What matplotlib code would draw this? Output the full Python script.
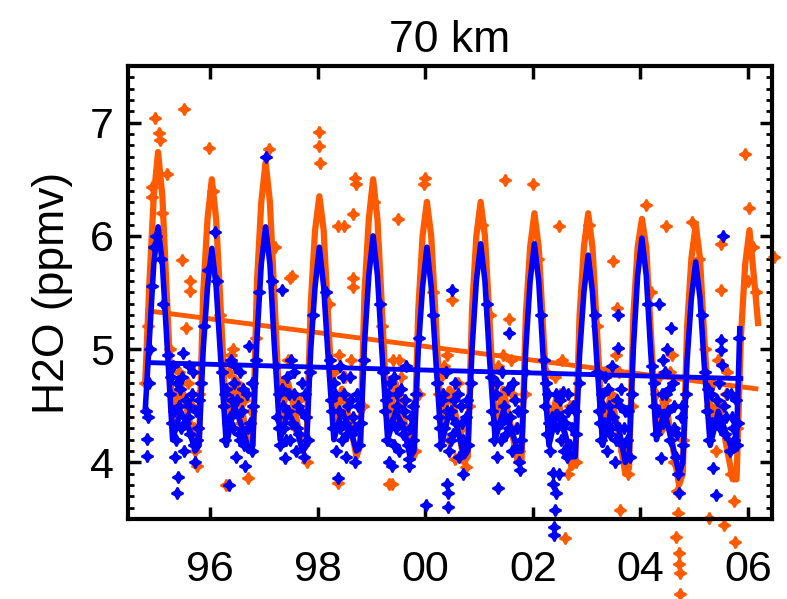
import matplotlib
matplotlib.use("Agg")
import matplotlib.pyplot as plt
from matplotlib.ticker import MultipleLocator, FixedLocator

plt.rcParams['font.family'] = ['Liberation Sans', 'DejaVu Sans']

ORANGE = '#FF5A00'
BLUE = '#0000FF'

# x tick positions / labels
year_ticks = [1996, 1998, 2000, 2002, 2004, 2006]
year_labels = ['96', '98', '00', '02', '04', '06']

# seasonal fit: offsets from Jan 1 and values read for each cycle
cycle_offsets = [-0.21, -0.13, -0.05, 0.03, 0.11, 0.19, 0.30, 0.45, 0.60, 0.72]

blue_years = [1995, 1996, 1997, 1998, 1999, 2000, 2001, 2002, 2003, 2004, 2005]
blue_cycles = [
    [4.45, 5.10, 5.75, 6.08, 5.75, 5.10, 4.20, 4.45, 4.30, 4.10],
    [4.15, 5.00, 5.55, 5.89, 5.55, 4.95, 4.15, 4.50, 4.30, 4.10],
    [4.15, 5.10, 5.75, 6.08, 5.75, 5.05, 4.20, 4.45, 4.30, 4.10],
    [4.15, 5.00, 5.55, 5.90, 5.55, 4.95, 4.20, 4.45, 4.30, 4.10],
    [4.15, 5.05, 5.65, 6.00, 5.65, 5.00, 4.20, 4.45, 4.30, 4.05],
    [4.10, 5.00, 5.55, 5.90, 5.55, 4.95, 4.15, 4.45, 4.30, 4.05],
    [4.10, 5.00, 5.60, 5.93, 5.60, 4.95, 4.20, 4.45, 4.30, 4.10],
    [4.10, 5.00, 5.60, 5.93, 5.60, 4.95, 4.15, 4.45, 4.25, 4.05],
    [4.05, 4.95, 5.50, 5.83, 5.50, 4.90, 4.15, 4.45, 4.30, 4.00],
    [4.05, 5.00, 5.65, 5.98, 5.65, 5.00, 4.20, 4.45, 4.15, 3.90],
    [4.00, 4.90, 5.45, 5.77, 5.45, 4.85, 4.15, 4.45, 4.25, 4.10],
]
blue_tail = [(2005.79, 4.20), (2005.85, 5.18)]

orange_years = [1995, 1996, 1997, 1998, 1999, 2000, 2001, 2002, 2003, 2004, 2005, 2006]
orange_cycles = [
    [4.70, 5.60, 6.35, 6.74, 6.35, 5.50, 4.35, 4.70, 4.40, 4.15],
    [4.15, 5.50, 6.15, 6.50, 6.15, 5.40, 4.35, 4.75, 4.45, 4.10],
    [4.15, 5.60, 6.30, 6.65, 6.30, 5.50, 4.35, 4.70, 4.40, 4.10],
    [4.15, 5.40, 6.05, 6.35, 6.05, 5.30, 4.30, 4.65, 4.35, 4.05],
    [4.15, 5.50, 6.15, 6.50, 6.15, 5.40, 4.30, 4.70, 4.40, 4.05],
    [4.05, 5.35, 6.00, 6.30, 6.00, 5.30, 4.30, 4.65, 4.35, 4.00],
    [4.05, 5.35, 6.00, 6.30, 6.00, 5.30, 4.30, 4.65, 4.30, 4.00],
    [4.00, 5.30, 5.90, 6.20, 5.90, 5.20, 4.25, 4.60, 4.25, 3.95],
    [4.00, 5.30, 5.90, 6.20, 5.90, 5.20, 4.25, 4.60, 4.25, 3.90],
    [3.95, 5.30, 5.90, 6.15, 5.90, 5.20, 4.25, 4.60, 4.15, 3.80],
    [3.90, 5.20, 5.80, 6.10, 5.80, 5.10, 4.25, 4.55, 4.15, 3.85],
    [3.85, 5.10, 5.75, 6.05, 5.65, 5.23],
]

# linear trends (start, end)
blue_trend_t = [1994.92, 2005.87]
blue_trend_v = [4.88, 4.74]
orange_trend_t = [1994.97, 2006.15]
orange_trend_v = [5.33, 4.65]

# individual measurements
blue_points = [
    (1994.80, 4.45), (1994.83, 4.06), (1994.83, 4.21), (1994.84, 4.40), (1994.86, 4.70),
    (1994.88, 5.00), (1994.92, 5.56), (1994.95, 5.90), (1995.00, 6.00), (1995.08, 5.80),
    (1995.12, 5.40), (1995.22, 4.95), (1995.25, 4.60), (1995.28, 4.35), (1995.30, 4.85),
    (1995.33, 4.45), (1995.36, 4.20), (1995.38, 4.70), (1995.39, 3.73), (1995.40, 3.87),
    (1995.42, 4.50), (1995.45, 4.30), (1995.48, 4.75), (1995.50, 4.97), (1995.52, 4.10),
    (1995.55, 4.55), (1995.58, 4.40), (1995.60, 4.85), (1995.63, 4.25), (1995.66, 4.60),
    (1995.70, 4.15), (1995.72, 4.00), (1995.74, 4.45), (1995.78, 4.30), (1995.82, 4.70),
    (1995.88, 5.20), (1995.95, 5.70), (1996.09, 6.03), (1996.12, 5.60),
    (1995.27, 4.75), (1995.34, 4.05), (1995.44, 4.65), (1995.53, 4.35), (1995.61, 4.50),
    (1995.68, 4.80), (1995.76, 4.20), (1995.80, 4.55),
    (1996.22, 4.80), (1996.25, 4.50), (1996.28, 4.20), (1996.30, 4.65), (1996.34, 3.80),
    (1996.36, 4.40), (1996.39, 4.90), (1996.42, 4.30), (1996.45, 4.70), (1996.48, 4.05),
    (1996.50, 4.55), (1996.53, 4.25), (1996.56, 4.80), (1996.59, 4.45), (1996.62, 4.15),
    (1996.65, 3.97), (1996.68, 4.60), (1996.72, 5.03), (1996.74, 4.35), (1996.78, 4.10),
    (1996.80, 4.50), (1996.85, 4.90), (1996.90, 5.50), (1997.04, 6.70), (1997.15, 5.60),
    (1996.27, 4.60), (1996.33, 4.35), (1996.41, 4.55), (1996.47, 4.85), (1996.55, 4.20),
    (1996.61, 4.65), (1996.70, 4.30), (1996.77, 4.70),
    (1997.22, 4.85), (1997.25, 4.40), (1997.28, 4.60), (1997.30, 4.15), (1997.34, 5.52),
    (1997.36, 4.50), (1997.38, 4.30), (1997.40, 4.04), (1997.42, 4.75), (1997.45, 4.45),
    (1997.48, 4.20), (1997.50, 4.90), (1997.53, 4.35), (1997.56, 4.60), (1997.60, 4.10),
    (1997.63, 4.50), (1997.66, 4.25), (1997.70, 4.70), (1997.74, 4.05), (1997.78, 4.40),
    (1997.82, 4.20), (1997.86, 4.80), (1997.92, 5.30),
    (1997.27, 4.30), (1997.33, 4.65), (1997.41, 4.20), (1997.47, 4.60), (1997.55, 4.80),
    (1997.62, 4.30), (1997.69, 4.45), (1997.76, 4.60),
    (1998.15, 5.50), (1998.22, 4.90), (1998.25, 4.55), (1998.28, 4.30), (1998.31, 4.70),
    (1998.34, 4.10), (1998.37, 3.86), (1998.39, 4.45), (1998.42, 4.85), (1998.45, 4.20),
    (1998.48, 4.60), (1998.50, 4.35), (1998.53, 4.05), (1998.56, 4.50), (1998.60, 4.75),
    (1998.63, 4.25), (1998.66, 4.40), (1998.70, 4.00), (1998.73, 4.60), (1998.77, 4.15),
    (1998.80, 4.35), (1998.86, 4.90),
    (1998.27, 4.45), (1998.33, 4.60), (1998.41, 4.30), (1998.47, 4.75), (1998.55, 4.25),
    (1998.62, 4.55), (1998.69, 4.30), (1998.75, 4.50),
    (1999.15, 5.40), (1999.22, 4.80), (1999.25, 4.45), (1999.28, 4.20), (1999.31, 4.60),
    (1999.33, 4.00), (1999.36, 4.35), (1999.39, 3.97), (1999.42, 4.75), (1999.45, 4.30),
    (1999.48, 4.50), (1999.51, 4.10), (1999.55, 4.65), (1999.58, 4.25), (1999.60, 4.45),
    (1999.64, 4.85), (1999.67, 4.15), (1999.69, 4.03), (1999.70, 3.97), (1999.74, 4.40),
    (1999.78, 4.20), (1999.82, 4.60), (1999.88, 5.10),
    (1999.27, 4.55), (1999.34, 4.70), (1999.41, 4.15), (1999.47, 4.60), (1999.53, 4.35),
    (1999.62, 4.55), (1999.72, 4.30), (1999.77, 4.50),
    (2000.02, 3.62), (2000.15, 5.30), (2000.22, 4.70), (2000.25, 4.40), (2000.28, 4.15),
    (2000.31, 4.55), (2000.34, 4.30), (2000.38, 4.80), (2000.41, 3.81), (2000.42, 3.73),
    (2000.43, 3.61), (2000.45, 4.10), (2000.48, 4.45), (2000.50, 5.52), (2000.52, 4.25),
    (2000.55, 4.70), (2000.58, 4.35), (2000.62, 4.05), (2000.66, 4.50), (2000.70, 4.20),
    (2000.71, 3.90), (2000.75, 4.40), (2000.80, 4.15), (2000.85, 4.70),
    (2000.27, 4.30), (2000.33, 4.60), (2000.40, 4.45), (2000.47, 4.20), (2000.54, 4.55),
    (2000.60, 4.60), (2000.68, 4.35), (2000.77, 4.55),
    (2001.15, 5.40), (2001.22, 4.75), (2001.25, 4.45), (2001.28, 4.20), (2001.31, 4.60),
    (2001.34, 4.05), (2001.36, 3.77), (2001.40, 4.35), (2001.43, 4.80), (2001.46, 4.50),
    (2001.50, 4.25), (2001.53, 4.65), (2001.55, 5.14), (2001.58, 4.40), (2001.62, 4.10),
    (2001.66, 4.55), (2001.70, 4.30), (2001.74, 4.00), (2001.77, 3.93), (2001.80, 4.45),
    (2001.85, 4.80),
    (2001.27, 4.35), (2001.33, 4.70), (2001.41, 4.20), (2001.48, 4.40), (2001.56, 4.30),
    (2001.64, 4.70), (2001.72, 4.45), (2001.78, 4.20),
    (2002.15, 5.30), (2002.20, 4.90), (2002.23, 4.50), (2002.26, 4.25), (2002.29, 4.60),
    (2002.32, 4.10), (2002.35, 4.40), (2002.37, 3.81), (2002.37, 3.91), (2002.39, 3.43),
    (2002.39, 3.36), (2002.41, 3.58), (2002.43, 3.73), (2002.45, 4.30), (2002.48, 3.90),
    (2002.50, 4.55), (2002.53, 4.20), (2002.56, 4.62), (2002.60, 4.35), (2002.63, 4.05),
    (2002.66, 4.45), (2002.70, 4.15), (2002.74, 4.50), (2002.80, 4.25), (2002.85, 4.70),
    (2002.25, 4.70), (2002.31, 4.35), (2002.44, 4.60), (2002.52, 4.40), (2002.58, 4.10),
    (2002.65, 4.60), (2002.72, 4.30), (2002.78, 4.45),
    (2003.15, 5.30), (2003.20, 4.80), (2003.23, 4.45), (2003.26, 4.20), (2003.29, 4.60),
    (2003.32, 4.35), (2003.35, 4.75), (2003.38, 4.10), (2003.41, 4.50), (2003.44, 4.25),
    (2003.47, 4.85), (2003.50, 4.40), (2003.53, 4.00), (2003.56, 4.55), (2003.58, 5.30),
    (2003.58, 5.01), (2003.60, 4.30), (2003.64, 4.65), (2003.68, 4.15), (2003.72, 4.45),
    (2003.76, 4.20), (2003.80, 4.05), (2003.85, 4.60),
    (2003.25, 4.35), (2003.31, 4.50), (2003.40, 4.65), (2003.46, 4.30), (2003.55, 4.20),
    (2003.62, 4.50), (2003.70, 4.30), (2003.78, 4.45),
    (2004.15, 5.40), (2004.22, 4.85), (2004.26, 4.50), (2004.30, 4.25), (2004.35, 5.40),
    (2004.38, 4.04), (2004.40, 4.60), (2004.43, 4.35), (2004.46, 4.80), (2004.50, 5.00),
    (2004.52, 4.45), (2004.55, 4.20), (2004.57, 5.19), (2004.60, 4.70), (2004.63, 4.30),
    (2004.66, 4.05), (2004.70, 3.90), (2004.72, 3.73), (2004.75, 4.40), (2004.80, 4.15),
    (2004.85, 4.60),
    (2004.25, 4.70), (2004.32, 4.45), (2004.42, 4.90), (2004.48, 4.60), (2004.54, 4.65),
    (2004.62, 4.50), (2004.68, 4.25), (2004.78, 4.50),
    (2005.15, 5.30), (2005.20, 4.80), (2005.24, 4.45), (2005.28, 4.20), (2005.32, 4.60),
    (2005.36, 3.95), (2005.40, 3.71), (2005.43, 4.35), (2005.46, 4.70), (2005.50, 5.08),
    (2005.50, 4.99), (2005.51, 4.86), (2005.53, 6.00), (2005.55, 4.50), (2005.58, 4.25),
    (2005.62, 4.60), (2005.66, 4.10), (2005.70, 4.40), (2005.74, 4.20), (2005.78, 4.55),
    (2005.82, 4.35), (2005.84, 5.10),
    (2005.26, 4.65), (2005.34, 4.35), (2005.42, 4.55), (2005.48, 4.30), (2005.60, 4.40),
    (2005.68, 4.60), (2005.72, 4.30), (2005.80, 4.15),
]

orange_points = [
    (1994.79, 4.70), (1994.85, 5.20), (1994.92, 6.43), (1994.92, 6.34), (1994.98, 7.04),
    (1995.05, 6.91), (1995.06, 6.85), (1995.20, 6.55), (1995.10, 6.20), (1995.25, 5.00),
    (1995.30, 4.60), (1995.35, 4.40), (1995.42, 4.80), (1995.48, 5.79), (1995.52, 7.12),
    (1995.55, 5.19), (1995.63, 5.60), (1995.62, 5.51), (1995.66, 4.50), (1995.70, 4.30),
    (1995.76, 3.97), (1995.72, 4.10), (1995.80, 4.60), (1995.98, 6.78), (1996.05, 6.40),
    (1996.18, 5.30), (1996.25, 4.50), (1996.30, 3.80), (1996.35, 4.80), (1996.42, 5.00),
    (1996.50, 4.70), (1996.58, 4.35), (1996.66, 4.20), (1996.70, 3.86), (1996.76, 4.45),
    (1996.85, 5.10), (1997.10, 6.77), (1997.20, 5.90), (1997.30, 4.70), (1997.38, 4.40),
    (1997.49, 5.63), (1997.53, 5.65), (1997.45, 4.90), (1997.58, 4.30), (1997.65, 4.55),
    (1997.72, 4.20), (1997.80, 4.00), (1998.03, 6.92), (1998.03, 6.79), (1998.05, 6.64),
    (1998.20, 5.40), (1998.30, 4.80), (1998.38, 6.09), (1998.37, 3.82), (1998.45, 4.60),
    (1998.48, 6.09), (1998.55, 4.30), (1998.62, 4.90), (1998.65, 5.63), (1998.66, 5.55),
    (1998.66, 6.19), (1998.70, 6.51), (1998.71, 6.46), (1998.75, 4.15), (1998.85, 4.50),
    (1999.05, 6.30), (1999.20, 5.20), (1999.33, 3.81), (1999.38, 3.81), (1999.30, 4.70),
    (1999.42, 4.40), (1999.50, 6.15), (1999.52, 4.90), (1999.60, 4.55), (1999.70, 4.25),
    (1999.80, 4.10), (1999.88, 4.60), (2000.00, 6.51), (1999.98, 6.46), (2000.15, 5.50),
    (2000.25, 4.60), (2000.35, 4.85), (2000.45, 4.20), (2000.50, 5.43), (2000.55, 4.03),
    (2000.60, 4.70), (2000.68, 4.30), (2000.75, 3.96), (2000.82, 4.50), (2001.05, 6.10),
    (2001.20, 5.30), (2001.30, 4.70), (2001.40, 4.40), (2001.49, 6.49), (2001.55, 5.27),
    (2001.60, 4.90), (2001.68, 4.30), (2001.75, 4.10), (2001.85, 4.60), (2002.00, 6.46),
    (2002.10, 5.80), (2002.25, 4.80), (2002.35, 4.40), (2002.48, 6.09), (2002.50, 4.60),
    (2002.60, 3.33), (2002.58, 4.20), (2002.65, 3.90), (2002.70, 4.50), (2002.80, 4.00),
    (2003.05, 6.10), (2003.20, 5.20), (2003.30, 4.60), (2003.40, 4.30), (2003.49, 5.78),
    (2003.57, 5.36), (2003.63, 3.58), (2003.60, 4.80), (2003.70, 4.10), (2003.78, 3.90),
    (2003.85, 4.50), (2004.10, 6.27), (2004.20, 5.50), (2004.30, 4.60), (2004.40, 4.30),
    (2004.47, 6.09), (2004.55, 4.80), (2004.62, 4.00), (2004.68, 3.75), (2004.70, 3.55),
    (2004.66, 3.34), (2004.72, 3.20), (2004.72, 3.10), (2004.73, 3.02), (2004.73, 2.84),
    (2004.80, 4.20), (2004.97, 6.12), (2005.10, 5.80), (2005.20, 5.00), (2005.27, 3.51),
    (2005.30, 4.50), (2005.40, 4.10), (2005.50, 5.93), (2005.50, 5.52), (2005.55, 3.45),
    (2005.60, 4.60), (2005.68, 3.90), (2005.75, 3.66), (2005.76, 3.30), (2005.80, 4.30),
    (2005.94, 6.72), (2006.02, 6.25), (2006.00, 5.60), (2006.10, 5.90), (2006.15, 5.50),
    (2006.48, 5.81),
    (1995.40, 4.55), (1995.58, 4.70), (1996.38, 4.95), (1996.45, 4.60), (1996.62, 4.55),
    (1997.35, 4.70), (1997.55, 4.50), (1998.40, 4.95), (1998.50, 4.75), (1998.58, 4.55),
    (1999.40, 4.90), (1999.55, 4.75), (2000.30, 4.75), (2000.40, 4.95), (2000.52, 4.60),
    (2001.35, 4.85), (2001.45, 4.95), (2001.62, 4.60), (2002.42, 4.75), (2002.55, 4.90),
    (2003.35, 4.80), (2003.45, 4.60), (2003.55, 4.95), (2004.35, 4.75), (2004.45, 4.55),
    (2004.58, 4.95), (2005.35, 4.70), (2005.45, 4.90), (2005.62, 4.80),
]


def cycle_curve(years, cycles, tail=()):
    t, v = [], []
    for yr, vals in zip(years, cycles):
        for off, val in zip(cycle_offsets, vals):
            t.append(yr + off)
            v.append(val)
    for tt, vv in tail:
        t.append(tt)
        v.append(vv)
    return t, v


fig = plt.figure(figsize=(7.87, 5.99), dpi=100)
ax = fig.add_axes([0.1626, 0.1336, 0.8184, 0.7562])

star = (4, 1, 0)
ot, ov = zip(*orange_points)
ax.plot(ot, ov, ls='none', marker=star, ms=8.5, mew=1.4, color=ORANGE, clip_on=False, zorder=2)
oc_t, oc_v = cycle_curve(orange_years, orange_cycles)
ax.plot(oc_t, oc_v, color=ORANGE, lw=4.5, zorder=3)
ax.plot(orange_trend_t, orange_trend_v, color=ORANGE, lw=3.5, zorder=3)

bt, bv = zip(*blue_points)
ax.plot(bt, bv, ls='none', marker=star, ms=8.5, mew=1.4, color=BLUE, clip_on=False, zorder=4)
bc_t, bc_v = cycle_curve(blue_years, blue_cycles, blue_tail)
ax.plot(bc_t, bc_v, color=BLUE, lw=4, zorder=5)
ax.plot(blue_trend_t, blue_trend_v, color=BLUE, lw=3.5, zorder=5)

ax.set_xlim(1994.47, 2006.45)
ax.set_ylim(3.5, 7.5)
ax.xaxis.set_major_locator(FixedLocator(year_ticks))
ax.set_xticklabels(year_labels)
ax.yaxis.set_major_locator(MultipleLocator(1))
ax.yaxis.set_minor_locator(MultipleLocator(0.1))
ax.tick_params(axis='both', which='major', direction='in', length=9, width=2.5,
               labelsize=31, top=True, right=True)
ax.tick_params(axis='x', which='major', pad=22)
ax.tick_params(axis='y', which='major', pad=10)
ax.tick_params(axis='y', which='minor', direction='in', length=4.5, width=2, right=True)
for sp in ax.spines.values():
    sp.set_linewidth(3)

ax.set_ylabel('H2O (ppmv)', fontsize=32, labelpad=12)
ax.set_title('70 km', fontsize=32, pad=10)

fig.savefig('out.png', dpi=100)
